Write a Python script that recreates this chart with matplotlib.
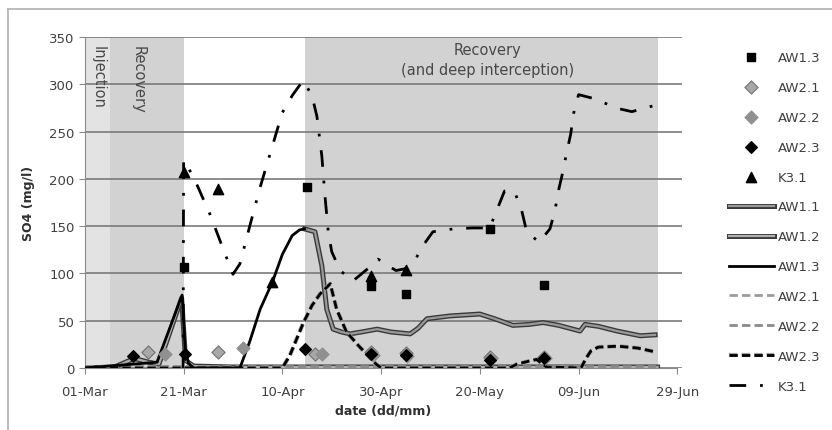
import numpy as np
import matplotlib
matplotlib.use('Agg')
import matplotlib.pyplot as plt
import matplotlib.patheffects as pe
from matplotlib.lines import Line2D

# days counted from 01-Mar
tick_days = [0, 20, 40, 60, 80, 100, 120]
tick_labels = ['01-Mar', '21-Mar', '10-Apr', '30-Apr', '20-May', '09-Jun', '29-Jun']

# measured samples (markers)
aw13_pts_day = [20, 45, 58, 65, 82, 93]
aw13_pts_val = [107, 191, 87, 78, 147, 88]
aw21_pts_day = [12.8, 27, 46.6, 58, 65, 82, 93]
aw21_pts_val = [17, 17, 15, 17, 16, 12, 12]
aw22_pts_day = [16.2, 32, 48, 58.3, 65.3, 82.3, 93.3]
aw22_pts_val = [15, 21, 15, 14, 13, 11, 10]
aw23_pts_day = [9.7, 20.3, 44.6, 58, 65, 82, 93]
aw23_pts_val = [13, 15, 20, 15, 14, 8, 10]
k31_pts_day = [20, 27, 38, 58, 65]
k31_pts_val = [207, 189, 91, 97, 104]

# modelled curves
aw11_day = [44.5, 46.6, 48, 49, 50.3, 52, 53.7, 56, 59.2, 62, 65.9, 67.5, 69.3, 74, 80, 83,
            86.7, 90, 92.8, 96, 100.3, 101.3, 104, 107.8, 112.5, 115.5]
aw11_val = [147, 144, 108, 62, 41, 38, 36, 38, 41, 38, 36, 42, 52, 55, 57, 52,
            45, 46, 48, 45, 39, 46, 44, 39, 34, 35]
aw12_day = [0, 6, 10, 13, 15, 19.6, 20.4, 22, 30, 45, 60, 80, 100, 116]
aw12_val = [0, 1, 10, 6, 4, 74, 8, 2, 1, 1, 1, 1, 1, 1]
aw13_day = [0, 14.6, 19.7, 20.3, 21, 22, 31.4, 33.4, 35.5, 38, 40, 42, 43.5, 44.5]
aw13_val = [0, 6, 77, 20, 5, 0, 0, 28, 62, 91, 120, 140, 146, 147]
aw21_day = [0, 20, 40, 60, 80, 100, 116]
aw21_val = [1, 1, 1, 1, 1, 1, 1]
aw22_day = [0, 20, 40, 60, 80, 100, 116]
aw22_val = [2, 2, 2, 2, 2, 2, 2]
aw23_day = [0, 40, 41.5, 44.2, 46, 47.6, 49.7, 51, 53, 55.7, 57, 59, 60, 86, 87.5, 89.8, 91.5,
            93.5, 100.5, 101.5, 102.5, 104, 108, 112, 115.5]
aw23_val = [0, 0, 13, 47, 66, 78, 89, 62, 38, 22, 15, 4, 0, 0, 4, 7, 9,
            1, 0, 10, 18, 22, 23, 21, 17]
k31_day = [19.9, 20, 22, 25.3, 28, 30, 31.4, 33.4, 35.5, 40, 42, 44.2, 46, 47, 48, 48.6, 49.3,
           50, 51.7, 54.3, 57.8, 59.4, 63, 65, 67, 68.3, 70.5, 74.6, 78.4, 82, 85, 87, 88.5,
           89.5, 92, 94.2, 95.2, 96, 96.8, 97.6, 98.4, 99, 100, 103.7, 107.4, 110.8, 115]
k31_val = [0, 220, 202, 163, 126, 99, 110, 150, 191, 270, 288, 304, 288, 266, 224, 184, 144,
           123, 103, 92, 107, 115, 103, 105, 115, 128, 144, 147, 148, 148, 187, 187, 166,
           144, 133, 147, 166, 189, 207, 228, 247, 269, 289, 284, 275, 271, 277]

plt.rcParams['font.family'] = 'DejaVu Sans'
fig = plt.figure(figsize=(8.32, 4.31), dpi=100)
ax = fig.add_axes([0.102, 0.144, 0.718, 0.768])

# phase shading
ax.axvspan(0, 5, color='#e3e3e3', zorder=0.1, lw=0)
ax.axvspan(5, 20, color='#d2d2d2', zorder=0.1, lw=0)
ax.axvspan(44.5, 116, color='#d2d2d2', zorder=0.1, lw=0)

outline = [pe.Stroke(linewidth=3.6, foreground='#3a3a3a'), pe.Normal()]
halo = [pe.Stroke(linewidth=3.0, foreground='#a0a0a0'), pe.Normal()]

ax.plot(aw11_day, aw11_val, color='#9a9a9a', lw=1.6, path_effects=outline, label='AW1.1', zorder=3)
ax.plot(aw12_day, aw12_val, color='#b0b0b0', lw=1.6, path_effects=outline, label='AW1.2', zorder=3)
ax.plot(aw13_day, aw13_val, color='black', lw=2.0, label='AW1.3', zorder=4)
ax.plot(aw21_day, aw21_val, color='#9a9a9a', lw=2.0, dashes=(3, 1.5), label='AW2.1', zorder=3)
ax.plot(aw22_day, aw22_val, color='#8a8a8a', lw=2.0, dashes=(3, 1.5), label='AW2.2', zorder=3)
ax.plot(aw23_day, aw23_val, color='black', lw=2.0, dashes=(3, 1.5), path_effects=halo,
        label='AW2.3', zorder=3)
ax.plot(k31_day, k31_val, color='black', lw=2.0, dashes=(6, 5, 1, 5), label='K3.1', zorder=3)

ax.scatter(aw13_pts_day, aw13_pts_val, marker='s', s=30, color='black', label='AW1.3', zorder=5)
ax.scatter(aw21_pts_day, aw21_pts_val, marker='D', s=45, color='#a8a8a8', edgecolor='#707070',
           lw=0.8, label='AW2.1', zorder=5)
ax.scatter(aw22_pts_day, aw22_pts_val, marker='D', s=45, color='#909090', edgecolor='#909090',
           lw=0.8, label='AW2.2', zorder=5)
ax.scatter(aw23_pts_day, aw23_pts_val, marker='D', s=35, color='black', label='AW2.3', zorder=6)
ax.scatter(k31_pts_day, k31_pts_val, marker='^', s=55, color='black', label='K3.1', zorder=6)

ax.set_xlim(0, 121)
ax.set_ylim(0, 350)
ax.set_yticks(np.arange(0, 351, 50))
ax.set_xticks(tick_days)
ax.set_xticklabels(tick_labels)
ax.yaxis.grid(True, color='#7a7a7a', lw=1.2)
ax.set_axisbelow(True)
for s in ['top', 'right']:
    ax.spines[s].set_visible(False)
ax.spines['left'].set_color('#8a8a8a')
ax.spines['bottom'].set_color('#8a8a8a')
ax.spines['bottom'].set_bounds(0, 120)
ax.tick_params(axis='both', colors='#8a8a8a', labelcolor='#404040', labelsize=9.5, length=4)
ax.tick_params(axis='x', pad=8)
ax.set_xlabel('date (dd/mm)', fontweight='bold', fontsize=9, color='#303030', labelpad=4)
ax.set_ylabel('SO4 (mg/l)', fontweight='bold', fontsize=9, color='#303030', labelpad=10)

ax.text(2.6, 341, 'Injection', rotation=-90, ha='center', va='top', fontsize=10.5, color='#484848')
ax.text(10.8, 341, 'Recovery', rotation=-90, ha='center', va='top', fontsize=10.5, color='#484848')
ax.text(81.5, 345, 'Recovery\n(and deep interception)', ha='center', va='top', fontsize=10.5,
        color='#484848', linespacing=1.45)

# legend: markers first, then lines
h, l = ax.get_legend_handles_labels()
order = [7, 8, 9, 10, 11, 0, 1, 2, 3, 4, 5, 6]
leg = fig.legend([h[i] for i in order], [l[i] for i in order], loc='upper left',
                 bbox_to_anchor=(0.862, 0.907), frameon=False, fontsize=9.5,
                 labelspacing=1.28, handlelength=3.4, handletextpad=0.3, scatterpoints=1,
                 labelcolor='#404040')

# outer chart border (left/top)
fig.add_artist(Line2D([0.0096, 0.0096], [0.0, 0.977], color='#b0b0b0', lw=1.2))
fig.add_artist(Line2D([0.0096, 1.0], [0.977, 0.977], color='#b0b0b0', lw=1.2))

fig.savefig('out.png', dpi=100)
